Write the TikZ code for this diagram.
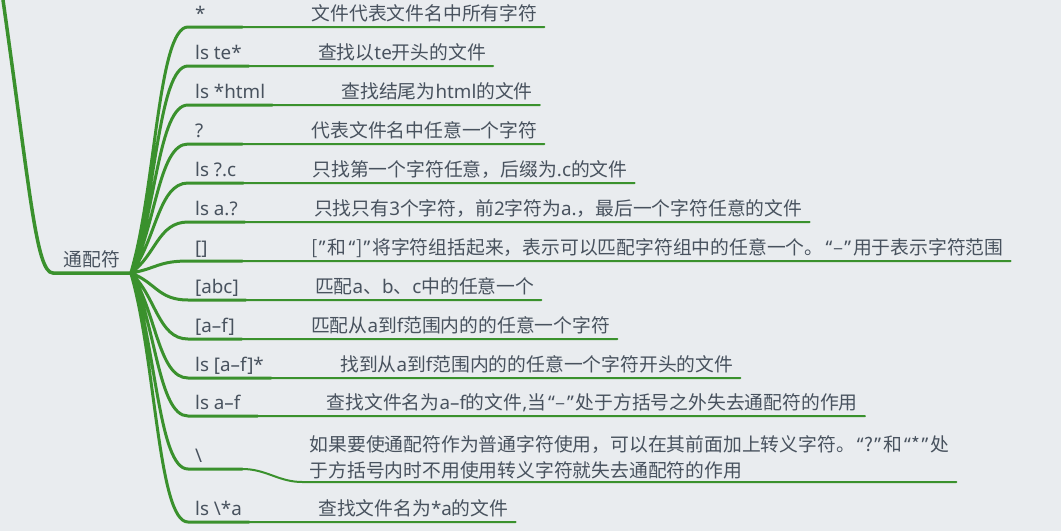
\documentclass[tikz,border=0pt]{standalone}
\usepackage{fontspec}
\setmainfont{Noto Sans CJK SC}
\newfontfamily\latinfont{Noto Sans}
\usetikzlibrary{positioning}

\definecolor{branchgreen}{RGB}{58,145,45}
\definecolor{labelgray}{RGB}{72,82,94}
\definecolor{canvas}{RGB}{233,236,239}

\newcommand{\openq}{\kern2pt{\latinfont “}\kern1pt}
\newcommand{\closeq}{\kern1pt{\latinfont ”}\kern2pt}
\newcommand{\westtext}[1]{{\latinfont #1}}
\newcommand{\shortkey}[1]{\makebox[40pt][l]{#1}}

\tikzset{
    every node/.style={
        text=labelgray,
        font=\fontsize{18.8}{26}\selectfont
    },
    root/.style={
        anchor=south west,
        inner xsep=10.5pt,
        inner ysep=0pt,
        text depth=6pt
    },
    keyword/.style={
        anchor=south west,
        font=\latinfont\fontsize{18.8}{26}\selectfont,
        inner xsep=7pt,
        inner ysep=0pt,
        text depth=6pt
    },
    detail/.style={
        inner xsep=7pt,
        inner ysep=0pt,
        text depth=6pt
    },
    note/.style={
        inner xsep=7pt,
        inner ysep=3pt,
        align=left
    },
    branch/.style={draw=branchgreen, line width=3pt, line cap=round},
    twig/.style={draw=branchgreen, line width=2pt, line cap=round}
}

\begin{document}
\begin{tikzpicture}[x=1pt, y=-1pt]
            % Canvas :
            \fill [canvas] (0,0) rectangle (1061,531);
            \useasboundingbox (0,0) rectangle (1061,531);

            % Root
            \coordinate (stem) at (3,0);
            \node (wild) [root] at (53,273) {通配符};

            % Keywords
            \node (k1) [keyword] at (188,27) {\shortkey{*}};
            \node (k2) [keyword] at (188,66) {ls te*};
            \node (k3) [keyword] at (188,105) {ls *html};
            \node (k4) [keyword] at (188,144) {\shortkey{?}};
            \node (k5) [keyword] at (188,183) {ls ?.c};
            \node (k6) [keyword] at (188,222) {ls a.?};
            \node (k7) [keyword] at (188,261) {\shortkey{[]}};
            \node (k8) [keyword] at (188,300) {[abc]};
            \node (k9) [keyword] at (188,339) {[a–f]};
            \node (k10) [keyword] at (188,378) {ls [a–f]*};
            \node (k11) [keyword] at (188,416) {ls a–f\kern10pt};
            \node (k12) [keyword] at (188,469) {\shortkey{\textbackslash}};
            \node (k13) [keyword] at (188,522) {ls \textbackslash*a};

            % Meanings
            \node (d1) [detail, right=62pt of k1.south east, anchor=south west]
                {文件代表文件名中所有字符};
            \node (d2) [detail, right=62pt of k2.south east, anchor=south west]
                {查找以\westtext{te}开头的文件};
            \node (d3) [detail, right=62pt of k3.south east, anchor=south west]
                {查找结尾为\westtext{html}的文件};
            \node (d4) [detail, right=62pt of k4.south east, anchor=south west]
                {代表文件名中任意一个字符};
            \node (d5) [detail, right=62pt of k5.south east, anchor=south west]
                {只找第一个字符任意，后缀为\westtext{.c}的文件};
            \node (d6) [detail, right=62pt of k6.south east, anchor=south west]
                {只找只有\westtext{3}个字符，前\westtext{2}字符为\westtext{a.}，最后一个字符任意的文件};
            \node (d7) [detail, right=62pt of k7.south east, anchor=south west]
                {[\closeq 和\openq]\closeq 将字符组括起来，表示可以匹配字符组中的任意一个。\openq–\closeq 用于表示字符范围};
            \node (d8) [detail, right=62pt of k8.south east, anchor=south west]
                {匹配\westtext{a}、\westtext{b}、\westtext{c}中的任意一个};
            \node (d9) [detail, right=62pt of k9.south east, anchor=south west]
                {匹配从\westtext{a}到\westtext{f}范围内的的任意一个字符};
            \node (d10) [detail, right=62pt of k10.south east, anchor=south west]
                {找到从\westtext{a}到\westtext{f}范围内的的任意一个字符开头的文件};
            \node (d11) [detail, right=62pt of k11.south east, anchor=south west]
                {查找文件名为\westtext{a–f}的文件\westtext{,}当\openq–\closeq 处于方括号之外失去通配符的作用};
            \node (d12) [note, right=60pt of k12.south east, anchor=south west, yshift=-13pt]
                {如果要使通配符作为普通字符使用，可以在其前面加上转义字符。\openq?\closeq 和\openq*\closeq 处\\
                 于方括号内时不用使用转义字符就失去通配符的作用};
            \node (d13) [detail, right=62pt of k13.south east, anchor=south west]
                {查找文件名为\westtext{*a}的文件};

            % Trunk
            \draw [branch, line width=3.5pt]
                (stem) .. controls (30,190) and (36,273) .. (wild.south west) -- (wild.south east);

            % Branches to keywords
            \draw [branch]
                (wild.south east) .. controls +(25,-83.6) and +(-30,0) .. (k1.south west) -- (k1.south east)
                (wild.south east) .. controls +(25,-70.4) and +(-30,0) .. (k2.south west) -- (k2.south east)
                (wild.south east) .. controls +(25,-57.1) and +(-30,0) .. (k3.south west) -- (k3.south east)
                (wild.south east) .. controls +(25,-43.9) and +(-30,0) .. (k4.south west) -- (k4.south east)
                (wild.south east) .. controls +(25,-30.6) and +(-30,0) .. (k5.south west) -- (k5.south east)
                (wild.south east) .. controls +(25,-17.3) and +(-30,0) .. (k6.south west) -- (k6.south east)
                (wild.south east) .. controls +(25,-4.1) and +(-30,0) .. (k7.south west) -- (k7.south east)
                (wild.south east) .. controls +(25,9.2) and +(-30,0) .. (k8.south west) -- (k8.south east)
                (wild.south east) .. controls +(25,22.4) and +(-30,0) .. (k9.south west) -- (k9.south east)
                (wild.south east) .. controls +(25,35.6) and +(-30,0) .. (k10.south west) -- (k10.south east)
                (wild.south east) .. controls +(25,48.6) and +(-30,0) .. (k11.south west) -- (k11.south east)
                (wild.south east) .. controls +(25,66.6) and +(-30,0) .. (k12.south west) -- (k12.south east)
                (wild.south east) .. controls +(25,84.7) and +(-30,0) .. (k13.south west) -- (k13.south east)
            ;

            % Keywords to meanings
            \draw [twig]
                (k1.south east) -- (d1.south west) -- (d1.south east)
                (k2.south east) -- (d2.south west) -- (d2.south east)
                (k3.south east) -- (d3.south west) -- (d3.south east)
                (k4.south east) -- (d4.south west) -- (d4.south east)
                (k5.south east) -- (d5.south west) -- (d5.south east)
                (k6.south east) -- (d6.south west) -- (d6.south east)
                (k7.south east) -- (d7.south west) -- (d7.south east)
                (k8.south east) -- (d8.south west) -- (d8.south east)
                (k9.south east) -- (d9.south west) -- (d9.south east)
                (k10.south east) -- (d10.south west) -- (d10.south east)
                (k11.south east) -- (d11.south west) -- (d11.south east)
                (k12.south east) .. controls +(24,0) and +(-24,0) .. (d12.south west) -- (d12.south east)
                (k13.south east) -- (d13.south west) -- (d13.south east)
            ;
\end{tikzpicture}
\end{document}
